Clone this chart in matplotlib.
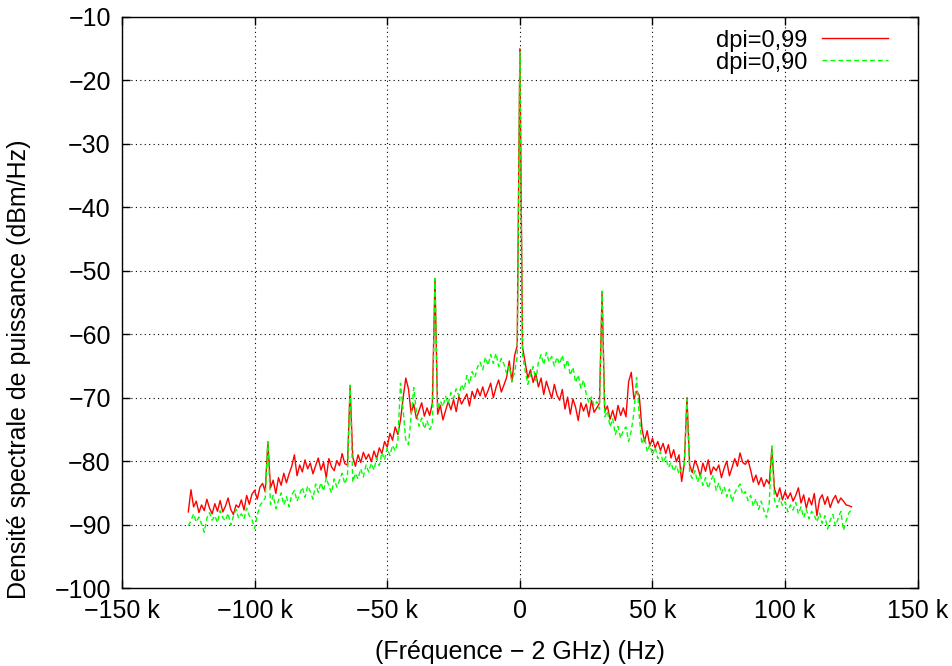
import numpy as np
import matplotlib
matplotlib.use('Agg')
import matplotlib.pyplot as plt
from matplotlib.ticker import FuncFormatter

# spectra, one value per kHz from -125 kHz to +125 kHz
freq_khz = list(range(-125, 126))

psd_099 = [
    -88.0, -84.5, -87.2, -86.3, -88.1, -86.9, -87.8, -86.0, -87.4, -88.3,  # -125
    -86.7, -87.9, -86.2, -88.0, -87.1, -85.8, -87.6, -88.4, -86.9, -87.3,  # -115
    -86.1, -87.7, -85.4, -86.8, -85.2, -84.6, -86.0, -84.1, -83.5, -84.8,  # -105
    -77.0, -84.2, -83.0, -85.1, -82.6, -83.8, -81.9, -83.4, -82.0, -80.8,  # -95
    -79.0, -82.3, -80.6, -81.7, -79.8, -81.2, -80.3, -82.0, -80.7, -79.5,  # -85
    -81.4, -80.2, -82.6, -79.6, -80.9, -81.5, -79.9, -80.7, -78.8, -80.4,  # -75
    -80.6, -68.3, -79.4, -80.8, -79.0, -80.2, -78.6, -79.7, -78.9, -80.1,  # -65
    -78.4, -79.6, -77.9, -78.8, -76.9, -77.8, -75.6, -76.7, -74.6, -75.8,  # -55
    -73.5, -70.0, -66.9, -68.6, -72.4, -71.0, -73.3, -72.0, -70.8, -72.9,  # -45
    -71.6, -72.8, -70.9, -51.4, -72.6, -71.2, -73.5, -72.0, -70.6, -71.9,  # -35
    -70.3, -72.2, -69.8, -71.0, -70.2, -69.4, -71.3, -69.0, -70.1, -68.6,  # -25
    -69.7, -68.3, -69.9, -68.9, -67.7, -70.0, -68.4, -67.2, -69.1, -68.0,  # -15
    -66.8, -64.2, -67.5, -63.4, -61.8, -15.0, -62.0, -64.5, -66.9, -65.6,  # -5
    -67.6, -66.2, -68.3, -66.9, -69.5, -67.4, -68.8, -70.1, -67.9, -69.6,  # 5
    -70.4, -68.7, -71.8, -69.9, -72.6, -70.2, -71.5, -73.6, -70.8, -72.1,  # 15
    -71.0, -73.0, -70.4, -72.3, -71.6, -70.9, -53.5, -72.2, -71.3, -73.4,  # 25
    -72.0, -73.6, -71.2, -72.8, -71.6, -73.0, -67.5, -66.0, -70.2, -69.0,  # 35
    -69.6, -74.8, -76.9, -75.2, -77.6, -76.4, -77.9, -76.9, -78.3, -77.2,  # 45
    -78.8, -77.4, -79.5, -78.2, -80.1, -79.0, -83.2, -80.4, -70.0, -80.6,  # 55
    -81.8, -79.9, -80.8, -82.4, -80.3, -81.6, -79.8, -82.1, -80.9, -81.5,  # 65
    -80.6, -82.6, -81.1, -80.0, -82.3, -81.0, -79.6, -80.8, -78.7, -80.2,  # 75
    -80.5, -79.8, -81.4, -83.3, -82.2, -83.7, -82.6, -84.0, -82.9, -83.6,  # 85
    -78.0, -84.4, -85.6, -84.2, -86.1, -84.8, -85.9, -85.0, -86.3, -85.4,  # 95
    -84.2, -86.6, -85.3, -87.4, -85.8, -86.9, -85.1, -88.6, -86.0, -85.3,  # 105
    -86.8, -85.6, -87.3, -86.1, -85.4, -86.6, -85.8, -86.3, -86.9, -87.0,  # 115
    -87.2,
]

psd_090 = [
    -90.2, -89.4, -88.3, -89.6, -88.8, -89.9, -91.2, -89.0, -88.1, -89.3,  # -125
    -88.6, -89.7, -87.8, -88.9, -89.4, -88.2, -90.1, -88.7, -87.6, -89.0,  # -115
    -88.3, -89.1, -87.4, -88.6, -89.2, -90.6, -88.5, -87.0, -86.4, -85.8,  # -105
    -76.9, -86.8, -85.4, -87.5, -86.2, -85.0, -86.9, -85.6, -87.2, -85.3,  # -95
    -84.6, -86.3, -85.2, -84.1, -85.7, -83.9, -84.8, -86.0, -83.6, -84.9,  # -85
    -83.4, -84.7, -82.6, -83.9, -85.0, -82.8, -84.1, -83.0, -81.9, -83.6,  # -75
    -82.4, -68.0, -83.3, -81.9, -82.8, -81.2, -82.5, -80.6, -81.7, -80.3,  # -65
    -81.4, -79.5, -80.7, -78.6, -79.8, -77.9, -79.1, -77.5, -78.4, -76.8,  # -55
    -67.7, -72.0, -76.8, -77.4, -73.0, -68.4, -72.3, -74.5, -73.2, -74.9,  # -45
    -73.6, -75.0, -74.2, -51.2, -71.8, -70.5, -71.4, -69.8, -70.9, -69.2,  # -35
    -70.1, -68.6, -69.7, -67.9, -68.8, -66.5, -67.8, -65.9, -66.8, -65.2,  # -25
    -64.4, -65.6, -63.6, -64.9, -63.2, -64.6, -63.0, -65.1, -63.8, -64.7,  # -15
    -66.2, -65.0, -67.4, -66.0, -63.5, -15.6, -63.2, -65.8, -67.9, -66.4,  # -5
    -65.1, -67.3, -64.4, -63.2, -64.8, -62.9, -64.3, -63.5, -65.0, -63.6,  # 5
    -64.7, -63.3, -65.4, -64.0, -66.5, -65.2, -67.6, -66.4, -68.5, -67.2,  # 15
    -69.4, -70.8, -69.9, -71.3, -70.6, -71.8, -53.2, -73.0, -72.1, -74.6,  # 25
    -73.3, -75.8, -74.5, -76.4, -75.1, -74.6, -76.9, -75.2, -72.4, -66.8,  # 35
    -72.8, -77.3, -76.2, -78.5, -77.4, -79.0, -77.8, -79.6, -78.5, -80.2,  # 45
    -79.3, -81.0, -80.2, -81.6, -80.7, -82.0, -81.1, -80.6, -70.2, -81.9,  # 55
    -82.7, -81.5, -83.3, -82.1, -83.8, -82.6, -84.3, -83.0, -82.2, -84.6,  # 65
    -83.4, -85.1, -84.0, -85.6, -84.4, -86.4, -85.0, -84.2, -83.6, -85.3,  # 75
    -84.8, -86.2, -85.4, -87.1, -85.9, -87.6, -86.3, -87.8, -88.9, -86.7,  # 85
    -77.6, -86.1, -87.3, -85.8, -87.0, -86.4, -88.0, -86.9, -87.7, -86.5,  # 95
    -88.3, -87.2, -88.9, -87.6, -89.1, -87.9, -88.5, -89.6, -88.2, -89.8,  # 105
    -88.6, -90.7, -89.3, -88.4, -90.2, -89.0, -87.9, -90.9, -89.4, -88.2,  # 115
    -87.6,
]

labels = ['dpi=0,99', 'dpi=0,90']
x_ticks = [-150000, -100000, -50000, 0, 50000, 100000, 150000]
y_ticks = list(range(-100, 0, 10))

plt.rcParams['font.family'] = ['Liberation Sans', 'DejaVu Sans']
plt.rcParams['font.size'] = 18

freq = np.array(freq_khz) * 1000.0

fig = plt.figure(figsize=(9.53, 6.66), dpi=100)
ax = fig.add_axes([0.128, 0.117, 0.835, 0.8575])

ax.plot(freq, psd_099, color='#ff0000', lw=1.0, label=labels[0], zorder=3)
ax.plot(freq, psd_090, color='#00ff00', lw=1.0, dashes=(3.5, 2.2), label=labels[1], zorder=4)

ax.set_xlim(-150000, 150000)
ax.set_ylim(-100, -10)
ax.set_xticks(x_ticks)
ax.set_yticks(y_ticks)


def fmt_k(v, pos):
    if v == 0:
        return '0'
    s = '%g k' % (abs(v) / 1000)
    return ('\u2212' + s) if v < 0 else s


def fmt_y(v, pos):
    s = '%g' % abs(v)
    return ('\u2212' + s) if v < 0 else s


ax.xaxis.set_major_formatter(FuncFormatter(fmt_k))
ax.yaxis.set_major_formatter(FuncFormatter(fmt_y))
ax.tick_params(axis='x', direction='in', length=6, width=1, top=True, pad=8)
ax.tick_params(axis='y', direction='in', length=6, width=1, right=True, pad=8)

ax.grid(True, color='black', linestyle=(0, (1, 3)), linewidth=0.8, zorder=1)
ax.set_axisbelow(True)
for sp in ax.spines.values():
    sp.set_linewidth(1.0)

ax.set_xlabel('(Fr\u00e9quence \u2212 2 GHz) (Hz)', labelpad=12)
ax.set_ylabel('Densit\u00e9 spectrale de puissance (dBm/Hz)')
ax.yaxis.set_label_coords(-0.114, 0.3835)

ax.legend(loc='upper right', bbox_to_anchor=(0.9686, 0.986), frameon=False,
          fontsize=17, markerfirst=False, handlelength=2.8, handletextpad=0.6,
          labelspacing=0.0, borderaxespad=0.0, borderpad=0.2)

fig.savefig('out.png', dpi=100)
